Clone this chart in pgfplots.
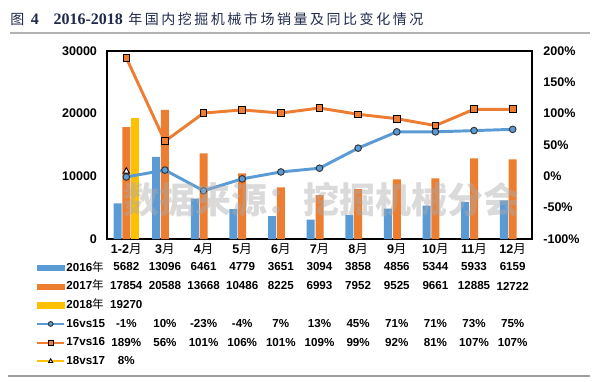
\documentclass[border=0pt]{standalone}
\usepackage{pgfplots}
\pgfplotsset{compat=1.18}
\usepackage{fontspec}
\setmainfont{Liberation Sans}
\newfontfamily\cjk{Noto Sans CJK SC}
\newfontfamily\serif{Liberation Serif}
\definecolor{cblue}{HTML}{5B9BD5}
\definecolor{corange}{HTML}{ED7D31}
\definecolor{cyellow}{HTML}{FFC000}
\definecolor{ctitle}{HTML}{1F2A4A}
\newcommand\s{\hspace{1.9pt}}
\begin{document}
\begin{tikzpicture}[x=0.75pt,y=-0.75pt]
\path[use as bounding box] (0,0) rectangle (600,382);

% title
\node[anchor=west, inner sep=0pt, text=ctitle] at (10,19) {{\cjk\fontsize{10.5}{12}\selectfont 图}\hspace{5pt}{\serif\bfseries\fontsize{12}{14}\selectfont 4}\hspace{11pt}{\serif\bfseries\fontsize{12}{14}\selectfont 2016-2018}\hspace{4pt}{\cjk\fontsize{10.5}{12}\selectfont 年{\s}国{\s}内{\s}挖{\s}掘{\s}机{\s}械{\s}市{\s}场{\s}销{\s}量{\s}及{\s}同{\s}比{\s}变{\s}化{\s}情{\s}况}};
\draw[gray!60, line width=1.1pt] (10,33) -- (590,33);

\begin{axis}[
  at={(80.25pt,-179.25pt)}, anchor=south west, scale only axis,
  width=318.75pt, height=141pt,
  xmin=-0.5, xmax=10.5, ymin=0, ymax=30000,
  scaled y ticks=false,
  ytick={0,10000,20000,30000}, yticklabels={0,10000,20000,30000},
  xtick={0,...,10},
  xticklabels={{1-2{\cjk\mdseries 月}},{3{\cjk\mdseries 月}},{4{\cjk\mdseries 月}},{5{\cjk\mdseries 月}},{6{\cjk\mdseries 月}},{7{\cjk\mdseries 月}},{8{\cjk\mdseries 月}},{9{\cjk\mdseries 月}},{10{\cjk\mdseries 月}},{11{\cjk\mdseries 月}},{12{\cjk\mdseries 月}}},
  major tick length=0pt, axis line style={line width=1pt},
  ytick pos=left, xtick pos=bottom,
  ybar, bar width=6pt,
  tick label style={font=\bfseries\fontsize{9.4}{11}\selectfont},
  yticklabel style={xshift=-4pt},
  clip=false]
\addplot[fill=cblue, draw=none, bar shift=-6.6pt] coordinates {(0,5682) (1,13096) (2,6461) (3,4779) (4,3651) (5,3094) (6,3858) (7,4856) (8,5344) (9,5933) (10,6159)};
\addplot[fill=corange, draw=none, bar shift=0pt] coordinates {(0,17854) (1,20588) (2,13668) (3,10486) (4,8225) (5,6993) (6,7952) (7,9525) (8,9661) (9,12885) (10,12722)};
\addplot[fill=cyellow, draw=none, bar shift=6.6pt] coordinates {(0,19270)};
\end{axis}

\begin{axis}[
  at={(80.25pt,-179.25pt)}, anchor=south west, scale only axis,
  width=318.75pt, height=141pt,
  xmin=-0.5, xmax=10.5, ymin=-100, ymax=200,
  axis y line*=right, axis x line=none,
  axis line style={line width=1pt},
  ytick={-100,-50,0,50,100,150,200},
  yticklabels={-100\%,-50\%,0\%,50\%,100\%,150\%,200\%},
  major tick length=0pt,
  tick label style={font=\bfseries\fontsize{9.4}{11}\selectfont},
  yticklabel style={xshift=5pt},
  clip=false,
  legend image code/.code={\draw[#1, line width=1.6pt, mark size=1.8pt, mark repeat=2, mark phase=2] plot coordinates {(0pt,0pt) (10pt,0pt) (20pt,0pt)};},
  legend style={at={(-0.167,-0.117)}, anchor=north west, draw=none, fill=none, inner sep=0pt,
    font=\bfseries\fontsize{8.7}{10}\selectfont,
    nodes={inner sep=1pt, text height=6.5pt, text depth=1.5pt},
    row sep=4pt},
  legend cell align=left]
\addlegendimage{legend image code/.code={\fill[cblue] (0pt,-2pt) rectangle (20pt,2pt);}}
\addlegendentry{2016{\cjk\mdseries 年}}
\addlegendimage{legend image code/.code={\fill[corange] (0pt,-2pt) rectangle (20pt,2pt);}}
\addlegendentry{2017{\cjk\mdseries 年}}
\addlegendimage{legend image code/.code={\fill[cyellow] (0pt,-2pt) rectangle (20pt,2pt);}}
\addlegendentry{2018{\cjk\mdseries 年}}
\addplot[color=cblue, line width=2.2pt, mark=*, mark size=2.5pt, mark options={fill=cblue, draw=black!80, line width=0.7pt}] coordinates {(0,-1) (1,10) (2,-23) (3,-4) (4,7) (5,13) (6,45) (7,71) (8,71) (9,73) (10,75)};
\addlegendentry{16vs15}
\addplot[color=corange, line width=2.2pt, mark=square*, mark size=2.5pt, mark options={fill=corange, draw=black, line width=0.7pt}] coordinates {(0,189) (1,56) (2,101) (3,106) (4,101) (5,109) (6,99) (7,92) (8,81) (9,107) (10,107)};
\addlegendentry{17vs16}
\addplot[color=cyellow, line width=2.2pt, mark=triangle*, mark size=2.7pt, mark options={fill=white, draw=black, line width=0.7pt}] coordinates {(0,8)};
\addlegendentry{18vs17}
\end{axis}

% data table
\begin{scope}[every node/.style={font=\bfseries\fontsize{8.7}{10}\selectfont, inner sep=0pt}]
\foreach \v [count=\i from 0] in {5682,13096,6461,4779,3651,3094,3858,4856,5344,5933,6159}
  \node at ({107+(\i+0.5)*38.636},267) {\v};
\foreach \v [count=\i from 0] in {17854,20588,13668,10486,8225,6993,7952,9525,9661,12885,12722}
  \node at ({107+(\i+0.5)*38.636},286) {\v};
\foreach \v [count=\i from 0] in {19270}
  \node at ({107+(\i+0.5)*38.636},305) {\v};
\foreach \v [count=\i from 0] in {-1\%,10\%,-23\%,-4\%,7\%,13\%,45\%,71\%,71\%,73\%,75\%}
  \node at ({107+(\i+0.5)*38.636},324) {\v};
\foreach \v [count=\i from 0] in {189\%,56\%,101\%,106\%,101\%,109\%,99\%,92\%,81\%,107\%,107\%}
  \node at ({107+(\i+0.5)*38.636},343) {\v};
\foreach \v [count=\i from 0] in {8\%}
  \node at ({107+(\i+0.5)*38.636},361) {\v};
\end{scope}

% watermark
\node[text=gray!65, opacity=0.45, font=\cjk\bfseries\fontsize{27}{27}\selectfont, inner sep=0pt] at (321,200) {数据来源：挖掘机械分会};

\draw[gray!75, line width=1.5pt] (8,376) -- (590,376);
\end{tikzpicture}
\end{document}
